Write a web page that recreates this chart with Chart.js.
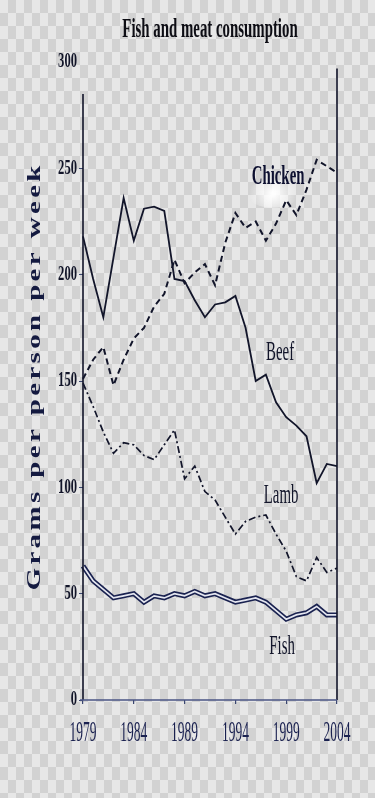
<!DOCTYPE html>
<html lang="en">
<head>
<meta charset="UTF-8" />
<meta name="viewport" content="width=device-width, initial-scale=1.0" />
<title>Fish and meat consumption</title>
<script src="https://cdn.jsdelivr.net/npm/chart.js@4.4.1/dist/chart.umd.min.js"></script>
<style>
  html, body {
    margin: 0;
    padding: 0;
  }
  body {
    width: 375px;
    height: 798px;
    overflow: hidden;
    background-color: #e7e7e7;
    background-image: conic-gradient(#d2d2d2 25%, transparent 0 50%, #d2d2d2 0 75%, transparent 0);
    background-size: 16px 26px;
  }
  #wrap {
    position: relative;
    width: 375px;
    height: 798px;
  }
</style>
</head>
<body>
<div id="wrap"><canvas id="chart"></canvas></div>
<script>
const years = [1979, 1980, 1981, 1982, 1983, 1984, 1985, 1986, 1987, 1988, 1989, 1990, 1991,
  1992, 1993, 1994, 1995, 1996, 1997, 1998, 1999, 2000, 2001, 2002, 2003, 2004];

const beef = [218, 198, 180, 208, 236, 216, 231, 232, 230, 198, 197, 188, 180,
  186, 187, 190, 175, 150, 153, 140, 133, 129, 124, 102, 111, 110];
const chicken = [151, 160, 166, 148, 160, 170, 175, 185, 191, 207, 196, 201, 205,
  195, 215, 229, 222, 225, 216, 224, 235, 228, 240, 254, 251, 248];
const lamb = [149, 138, 126, 116, 121, 120, 115, 113, 120, 127, 104, 110, 98,
  94, 86, 78, 84, 86, 87, 78, 70, 58, 56, 67, 60, 62];
const fish = [63, 56, 52, 48, 49, 50, 46, 49, 48, 50, 49, 51, 49,
  50, 48, 46, 47, 48, 46, 42, 38, 40, 41, 44, 40, 40];

const xTickLabels = [1979, 1984, 1989, 1994, 1999, 2004];
const yTickLabels = [0, 50, 100, 150, 200, 250, 300];

const titleText = "Fish and meat consumption";
const yTitleText = "Grams per person per week";

// series names written next to the lines (index along x, value along y)
const seriesNotes = [
  { text: "Chicken", at: 19.2, value: 246, bold: true },
  { text: "Beef", at: 19.4, value: 163 },
  { text: "Lamb", at: 19.5, value: 96 },
  { text: "Fish", at: 19.6, value: 25 }
];

const ink = "#12152a";
const navy = "#1a2150";

function squashText(ctx, text, x, y, size, sx, color, align, weight) {
  ctx.save();
  ctx.translate(x, y);
  ctx.scale(sx, 1);
  ctx.font = (weight || "normal") + " " + size + 'px "Liberation Serif"';
  ctx.fillStyle = color;
  ctx.textAlign = align || "center";
  ctx.textBaseline = "middle";
  ctx.fillText(text, 0, 0);
  ctx.restore();
}

const paperText = {
  id: "paperText",
  beforeDatasetsDraw(chart) {
    const ctx = chart.ctx;
    const x = chart.scales.x, y = chart.scales.y;
    // pale smudge under the Chicken label
    const cx = x.getPixelForValue(18.7), cy = y.getPixelForValue(238);
    const g = ctx.createRadialGradient(cx, cy, 2, cx, cy, 24);
    g.addColorStop(0, "rgba(255,255,255,0.95)");
    g.addColorStop(1, "rgba(255,255,255,0)");
    ctx.save();
    ctx.fillStyle = g;
    ctx.beginPath();
    ctx.ellipse(cx, cy, 26, 14, 0, 0, Math.PI * 2);
    ctx.fill();
    ctx.restore();
  },
  afterDraw(chart) {
    const ctx = chart.ctx;
    const x = chart.scales.x, y = chart.scales.y;
    const area = chart.chartArea;

    // axis lines
    ctx.save();
    ctx.strokeStyle = ink;
    ctx.lineWidth = 1.6;
    ctx.beginPath();
    ctx.moveTo(area.left, y.getPixelForValue(285));
    ctx.lineTo(area.left, area.bottom);
    ctx.moveTo(area.right, y.getPixelForValue(297));
    ctx.lineTo(area.right, area.bottom);
    ctx.stroke();
    ctx.strokeStyle = "#4a5585";
    ctx.lineWidth = 1.6;
    ctx.beginPath();
    ctx.moveTo(area.left - 3, area.bottom);
    ctx.lineTo(area.right, area.bottom);
    ctx.stroke();
    ctx.restore();

    // title
    squashText(ctx, titleText, 210, 30, 27, 0.55, "#0d0d14", "center", "bold");

    // y tick labels
    yTickLabels.forEach(v => {
      squashText(ctx, String(v), area.left - 6, y.getPixelForValue(v), 21, 0.6, "#111428", "right", "bold");
    });

    // x tick labels
    xTickLabels.forEach(v => {
      squashText(ctx, String(v), x.getPixelForValue(years.indexOf(v)), 733, 30, 0.45, navy, "center");
    });

    // series notes
    seriesNotes.forEach(n => {
      squashText(ctx, n.text, x.getPixelForValue(n.at), y.getPixelForValue(n.value), 27, 0.55,
        n.bold ? "#0d1030" : ink, "center", n.bold ? "bold" : "normal");
    });

    // y axis title, rotated and spaced out
    ctx.save();
    ctx.translate(35, (area.top + area.bottom) / 2 - 3);
    ctx.rotate(-Math.PI / 2);
    ctx.scale(1, 0.62);
    ctx.font = 'bold 29px "Liberation Serif"';
    ctx.letterSpacing = "0px";
    const w = ctx.measureText(yTitleText).width;
    const gap = (425 - w) / (yTitleText.length - 1);
    ctx.letterSpacing = gap + "px";
    ctx.fillStyle = "#141a40";
    ctx.textAlign = "center";
    ctx.textBaseline = "middle";
    ctx.fillText(yTitleText, gap / 2, 0);
    ctx.restore();
  }
};

const data = {
  labels: years,
  datasets: [
    {
      label: "Beef",
      data: beef,
      borderColor: ink,
      borderWidth: 1.8
    },
    {
      label: "Chicken",
      data: chicken,
      borderColor: ink,
      borderWidth: 2,
      borderDash: [6, 4]
    },
    {
      label: "Lamb",
      data: lamb,
      borderColor: ink,
      borderWidth: 1.7,
      borderDash: [7, 3, 2, 3]
    },
    {
      label: "Fish inner",
      data: fish,
      borderColor: "#e4e6f0",
      borderWidth: 1.7
    },
    {
      label: "Fish",
      data: fish,
      borderColor: "#1a2250",
      borderWidth: 5
    }
  ]
};

const config = {
  type: "line",
  data: data,
  options: {
    responsive: true,
    maintainAspectRatio: false,
    animation: false,
    devicePixelRatio: 1,
    layout: { padding: { top: 62, right: 38, left: 0, bottom: 0 } },
    elements: {
      point: { radius: 0 },
      line: { tension: 0, fill: false }
    },
    plugins: {
      legend: { display: false },
      title: { display: false },
      tooltip: { enabled: false }
    },
    scales: {
      x: {
        type: "category",
        offset: false,
        border: { display: false },
        grid: {
          drawOnChartArea: false,
          drawTicks: true,
          tickLength: 4,
          lineWidth: 1.2,
          color: c => xTickLabels.includes(years[c.index]) ? "#3a4670" : "transparent"
        },
        ticks: { display: false, autoSkip: false },
        afterFit: s => { s.height = 98; }
      },
      y: {
        min: 0,
        max: 300,
        border: { display: false },
        grid: {
          drawOnChartArea: false,
          drawTicks: true,
          tickLength: 4,
          color: c => (c.tick && c.tick.value === 300) ? "transparent" : "#3a4670"
        },
        ticks: { display: false, stepSize: 50 },
        afterFit: s => { s.width = 83; }
      }
    }
  },
  plugins: [paperText]
};

const chart = new Chart(document.getElementById("chart"), config);
</script>
</body>
</html>
